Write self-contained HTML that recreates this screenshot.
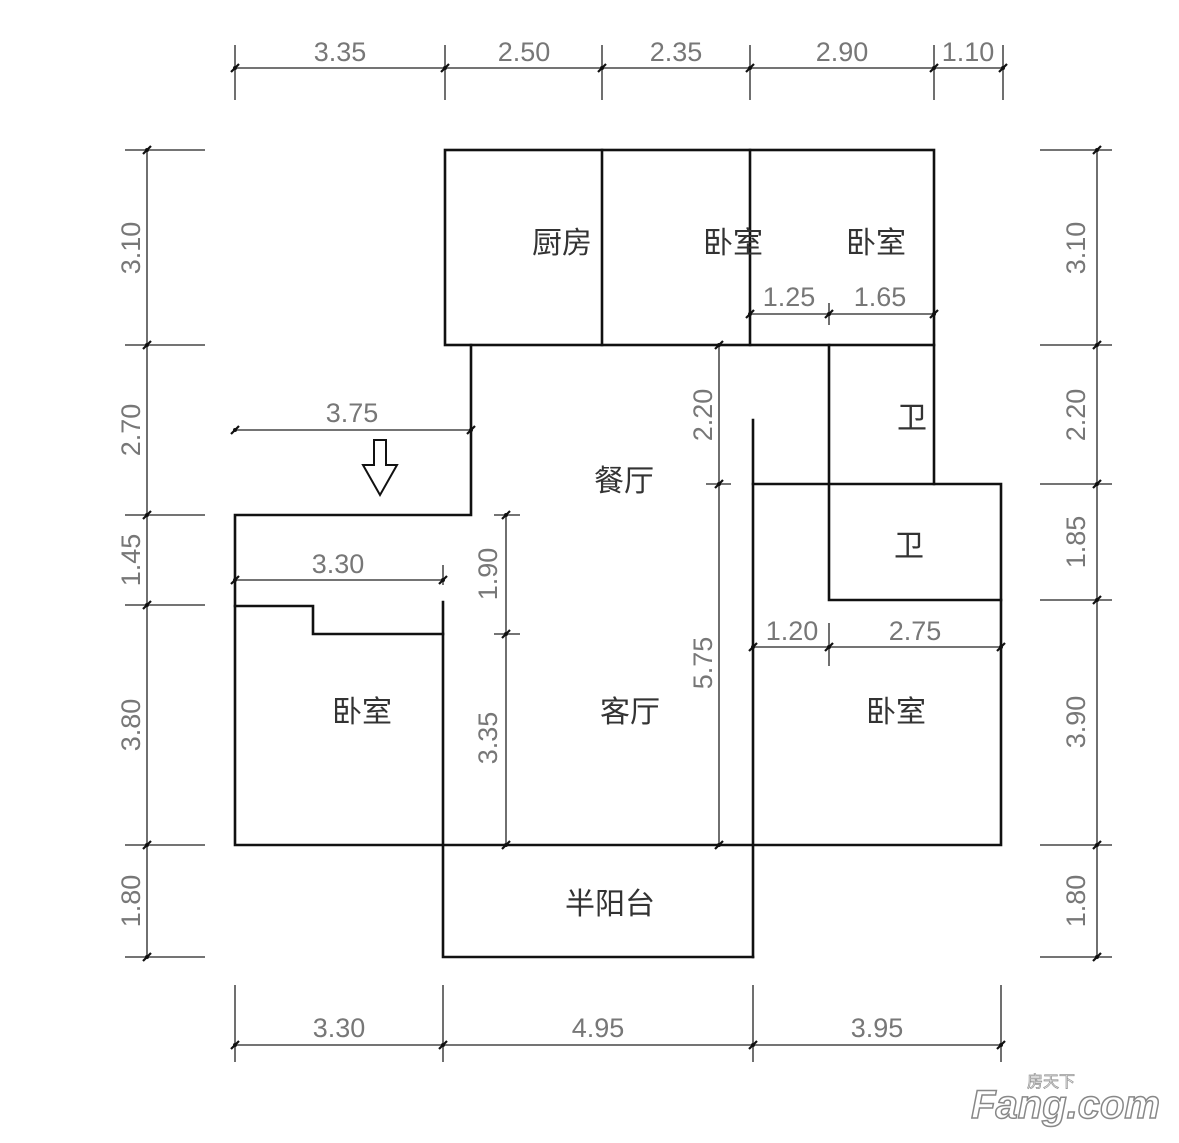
<!DOCTYPE html>
<html><head><meta charset="utf-8"><style>
html,body{margin:0;padding:0;background:#fff;width:1179px;height:1143px;overflow:hidden}
svg{display:block}
.w{stroke:#111;stroke-width:2.6;fill:none;stroke-linecap:square}
.d{stroke:#222;stroke-width:1.3;fill:none}
.t{font-family:"Liberation Sans Narrow","Liberation Sans",sans-serif;font-size:27px;fill:#777;text-anchor:middle}
.c{font-family:"Liberation Sans","Noto Sans CJK SC",sans-serif;font-size:30px;fill:#333;text-anchor:middle}
</style></head><body>
<svg width="1179" height="1143" viewBox="0 0 1179 1143">
<defs>
<g id="tk"><line x1="-4" y1="4" x2="4" y2="-4" stroke="#111" stroke-width="2.2"/><circle r="2" fill="#111"/></g>
</defs>
<!-- top dims -->
<g class="d">
<line x1="235" y1="68" x2="1003" y2="68"/>
<line x1="235" y1="45" x2="235" y2="100"/><line x1="445" y1="45" x2="445" y2="100"/><line x1="602" y1="45" x2="602" y2="100"/><line x1="750" y1="45" x2="750" y2="100"/><line x1="934" y1="45" x2="934" y2="100"/><line x1="1003" y1="45" x2="1003" y2="100"/>
</g>
<use href="#tk" x="235" y="68"/><use href="#tk" x="445" y="68"/><use href="#tk" x="602" y="68"/><use href="#tk" x="750" y="68"/><use href="#tk" x="934" y="68"/><use href="#tk" x="1003" y="68"/>
<text class="t" x="340" y="61">3.35</text><text class="t" x="524" y="61">2.50</text><text class="t" x="676" y="61">2.35</text><text class="t" x="842" y="61">2.90</text><text class="t" x="968" y="61">1.10</text>
<!-- left dims -->
<g class="d">
<line x1="147" y1="150" x2="147" y2="957"/>
<line x1="125" y1="150" x2="205" y2="150"/><line x1="125" y1="345" x2="205" y2="345"/><line x1="125" y1="515" x2="205" y2="515"/><line x1="125" y1="605" x2="205" y2="605"/><line x1="125" y1="845" x2="205" y2="845"/><line x1="125" y1="957" x2="205" y2="957"/>
</g>
<use href="#tk" x="147" y="150"/><use href="#tk" x="147" y="345"/><use href="#tk" x="147" y="515"/><use href="#tk" x="147" y="605"/><use href="#tk" x="147" y="845"/><use href="#tk" x="147" y="957"/>
<text class="t" transform="translate(140,248) rotate(-90)">3.10</text>
<text class="t" transform="translate(140,430) rotate(-90)">2.70</text>
<text class="t" transform="translate(140,560) rotate(-90)">1.45</text>
<text class="t" transform="translate(140,725) rotate(-90)">3.80</text>
<text class="t" transform="translate(140,901) rotate(-90)">1.80</text>
<!-- right dims -->
<g class="d">
<line x1="1097" y1="150" x2="1097" y2="957"/>
<line x1="1040" y1="150" x2="1112" y2="150"/><line x1="1040" y1="345" x2="1112" y2="345"/><line x1="1040" y1="484" x2="1112" y2="484"/><line x1="1040" y1="600" x2="1112" y2="600"/><line x1="1040" y1="845" x2="1112" y2="845"/><line x1="1040" y1="957" x2="1112" y2="957"/>
</g>
<use href="#tk" x="1097" y="150"/><use href="#tk" x="1097" y="345"/><use href="#tk" x="1097" y="484"/><use href="#tk" x="1097" y="600"/><use href="#tk" x="1097" y="845"/><use href="#tk" x="1097" y="957"/>
<text class="t" transform="translate(1085,248) rotate(-90)">3.10</text>
<text class="t" transform="translate(1085,415) rotate(-90)">2.20</text>
<text class="t" transform="translate(1085,542) rotate(-90)">1.85</text>
<text class="t" transform="translate(1085,722) rotate(-90)">3.90</text>
<text class="t" transform="translate(1085,901) rotate(-90)">1.80</text>
<!-- bottom dims -->
<g class="d">
<line x1="235" y1="1045" x2="1001" y2="1045"/>
<line x1="235" y1="985" x2="235" y2="1062"/><line x1="443" y1="985" x2="443" y2="1062"/><line x1="753" y1="985" x2="753" y2="1062"/><line x1="1001" y1="985" x2="1001" y2="1062"/>
</g>
<use href="#tk" x="235" y="1045"/><use href="#tk" x="443" y="1045"/><use href="#tk" x="753" y="1045"/><use href="#tk" x="1001" y="1045"/>
<text class="t" x="339" y="1037">3.30</text><text class="t" x="598" y="1037">4.95</text><text class="t" x="877" y="1037">3.95</text>
<!-- walls -->
<g class="w">
<rect x="445" y="150" width="489" height="195"/>
<line x1="602" y1="150" x2="602" y2="345"/><line x1="750" y1="150" x2="750" y2="345"/>
<polyline points="471,345 471,515 235,515 235,845 1001,845 1001,484 753,484"/>
<line x1="934" y1="345" x2="934" y2="484"/>
<polyline points="829,345 829,600 1001,600"/>
<line x1="753" y1="420" x2="753" y2="957"/>
<polyline points="443,602 443,957 753,957"/>
<polyline points="235,606 313,606 313,634 443,634"/>
</g>
<!-- inner dims -->
<g class="d">
<line x1="235" y1="430" x2="471" y2="430"/>
<line x1="235" y1="580" x2="443" y2="580"/><line x1="443" y1="565" x2="443" y2="585"/>
<line x1="506" y1="515" x2="506" y2="845"/><line x1="494" y1="515" x2="520" y2="515"/><line x1="494" y1="634" x2="520" y2="634"/>
<line x1="719" y1="345" x2="719" y2="845"/><line x1="706" y1="484" x2="731" y2="484"/>
<line x1="750" y1="314" x2="934" y2="314"/><line x1="829" y1="303" x2="829" y2="325"/>
<line x1="753" y1="647" x2="1001" y2="647"/><line x1="829" y1="623" x2="829" y2="666"/>
</g>
<use href="#tk" x="235" y="430"/><use href="#tk" x="471" y="430"/>
<use href="#tk" x="235" y="580"/><use href="#tk" x="443" y="580"/>
<use href="#tk" x="506" y="515"/><use href="#tk" x="506" y="634"/><use href="#tk" x="506" y="845"/>
<use href="#tk" x="719" y="345"/><use href="#tk" x="719" y="484"/><use href="#tk" x="719" y="845"/>
<use href="#tk" x="750" y="314"/><use href="#tk" x="829" y="314"/><use href="#tk" x="934" y="314"/>
<use href="#tk" x="753" y="647"/><use href="#tk" x="829" y="647"/><use href="#tk" x="1001" y="647"/>
<text class="t" x="352" y="422">3.75</text>
<text class="t" x="338" y="573">3.30</text>
<text class="t" x="789" y="306">1.25</text><text class="t" x="880" y="306">1.65</text>
<text class="t" x="792" y="640">1.20</text><text class="t" x="915" y="640">2.75</text>
<text class="t" transform="translate(497,574) rotate(-90)">1.90</text>
<text class="t" transform="translate(497,738) rotate(-90)">3.35</text>
<text class="t" transform="translate(712,415) rotate(-90)">2.20</text>
<text class="t" transform="translate(712,663) rotate(-90)">5.75</text>
<!-- arrow -->
<polygon points="374,440 386,440 386,465 397,465 380,495 363,465 374,465" fill="#fff" stroke="#111" stroke-width="2"/>
<!-- labels -->
<text class="c" x="562" y="253">厨房</text>
<text class="c" x="733" y="253">卧室</text>
<text class="c" x="876" y="253">卧室</text>
<text class="c" x="912" y="428">卫</text>
<text class="c" x="909" y="556">卫</text>
<text class="c" x="624" y="491">餐厅</text>
<text class="c" x="630" y="722">客厅</text>
<text class="c" x="362" y="722">卧室</text>
<text class="c" x="896" y="722">卧室</text>
<text class="c" x="610" y="914">半阳台</text>
<!-- watermark -->
<text x="1160" y="1118" font-family="Liberation Sans,sans-serif" font-size="40" font-weight="bold" font-style="italic" fill="#fff" stroke="#888" stroke-width="1.5" text-anchor="end">Fang.com</text>
<text x="1075" y="1087" font-family="Liberation Sans,Noto Sans CJK SC,sans-serif" font-size="16" fill="#fff" stroke="#999" stroke-width="0.8" text-anchor="end">房天下</text>
</svg>
</body></html>
